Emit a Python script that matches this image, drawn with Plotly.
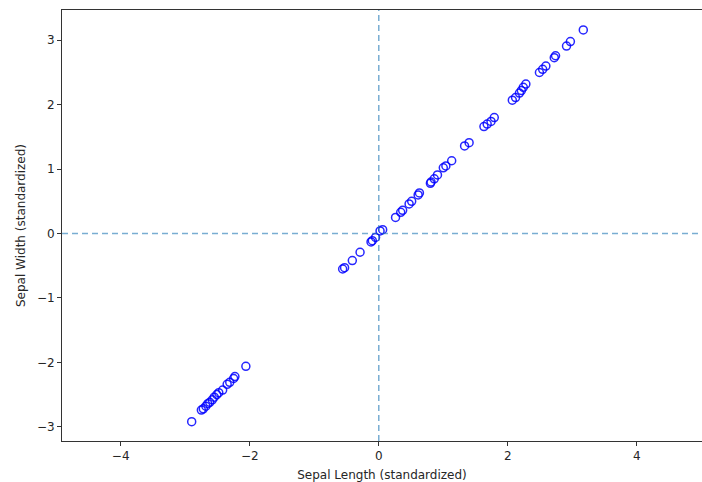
import plotly.graph_objects as go

sepal_length_std = [
    -2.90, -2.75, -2.72, -2.68, -2.65, -2.62, -2.58, -2.55, -2.51, -2.48, -2.42,
    -2.35, -2.31, -2.25, -2.23, -2.06,
    -0.56, -0.53, -0.41, -0.29, -0.12, -0.10, -0.05, 0.02, 0.06,
    0.26, 0.34, 0.37, 0.47, 0.51, 0.61, 0.63,
    0.80, 0.81, 0.86, 0.91, 1.00, 1.04, 1.13, 1.33, 1.40,
    1.63, 1.68, 1.74, 1.79,
    2.07, 2.12, 2.18, 2.21, 2.24, 2.28, 2.49, 2.54, 2.59, 2.72, 2.74,
    2.91, 2.97, 3.17,
]
sepal_width_std = [
    -2.92, -2.74, -2.72, -2.68, -2.64, -2.62, -2.58, -2.54, -2.50, -2.47, -2.43,
    -2.34, -2.31, -2.25, -2.22, -2.06,
    -0.55, -0.53, -0.42, -0.29, -0.13, -0.11, -0.06, 0.04, 0.06,
    0.25, 0.33, 0.36, 0.46, 0.50, 0.60, 0.63,
    0.78, 0.80, 0.85, 0.91, 1.02, 1.05, 1.13, 1.36, 1.41,
    1.66, 1.70, 1.74, 1.80,
    2.07, 2.11, 2.18, 2.22, 2.27, 2.32, 2.50, 2.55, 2.60, 2.73, 2.76,
    2.91, 2.98, 3.16,
]

x_range = [-4.91, 5.01]
y_range = [-3.22, 3.47]
x_ticks = [-4, -2, 0, 2, 4]
y_ticks = [-3, -2, -1, 0, 1, 2, 3]

fig = go.Figure()
fig.add_trace(go.Scatter(
    x=sepal_length_std, y=sepal_width_std, mode="markers",
    marker=dict(symbol="circle-open", size=8, color="rgba(0,0,255,0.85)",
                line=dict(width=1.5, color="rgba(0,0,255,0.85)")),
    showlegend=False,
))

fig.add_shape(type="line", xref="x", yref="paper", x0=0, x1=0, y0=0, y1=1,
              line=dict(color="rgba(31,119,180,0.6)", width=1.5, dash="6px,4px"))
fig.add_shape(type="line", xref="paper", yref="y", x0=0, x1=1, y0=0, y1=0,
              line=dict(color="rgba(31,119,180,0.6)", width=1.5, dash="6px,4px"))

font = dict(family="DejaVu Sans", size=12, color="#262626")
axis_common = dict(showgrid=False, zeroline=False, showline=True, linecolor="#333333",
                   linewidth=1, ticks="outside", ticklen=4, tickcolor="#333333",
                   tickfont=font)

fig.update_xaxes(range=x_range, tickvals=x_ticks, ticktext=["−4", "−2", "0", "2", "4"],
                 mirror=True, title=dict(text="Sepal Length (standardized)", font=font,
                                         standoff=8),
                 **axis_common)
fig.update_yaxes(range=y_range, tickvals=y_ticks,
                 ticktext=["−3", "−2", "−1", "0", "1", "2", "3"],
                 title=dict(text="Sepal Width (standardized)", font=font, standoff=8),
                 **axis_common)

fig.update_layout(width=702, height=482, margin=dict(l=62, r=0, t=10, b=41),
                  plot_bgcolor="white", paper_bgcolor="white")

fig.write_html("out.html")
